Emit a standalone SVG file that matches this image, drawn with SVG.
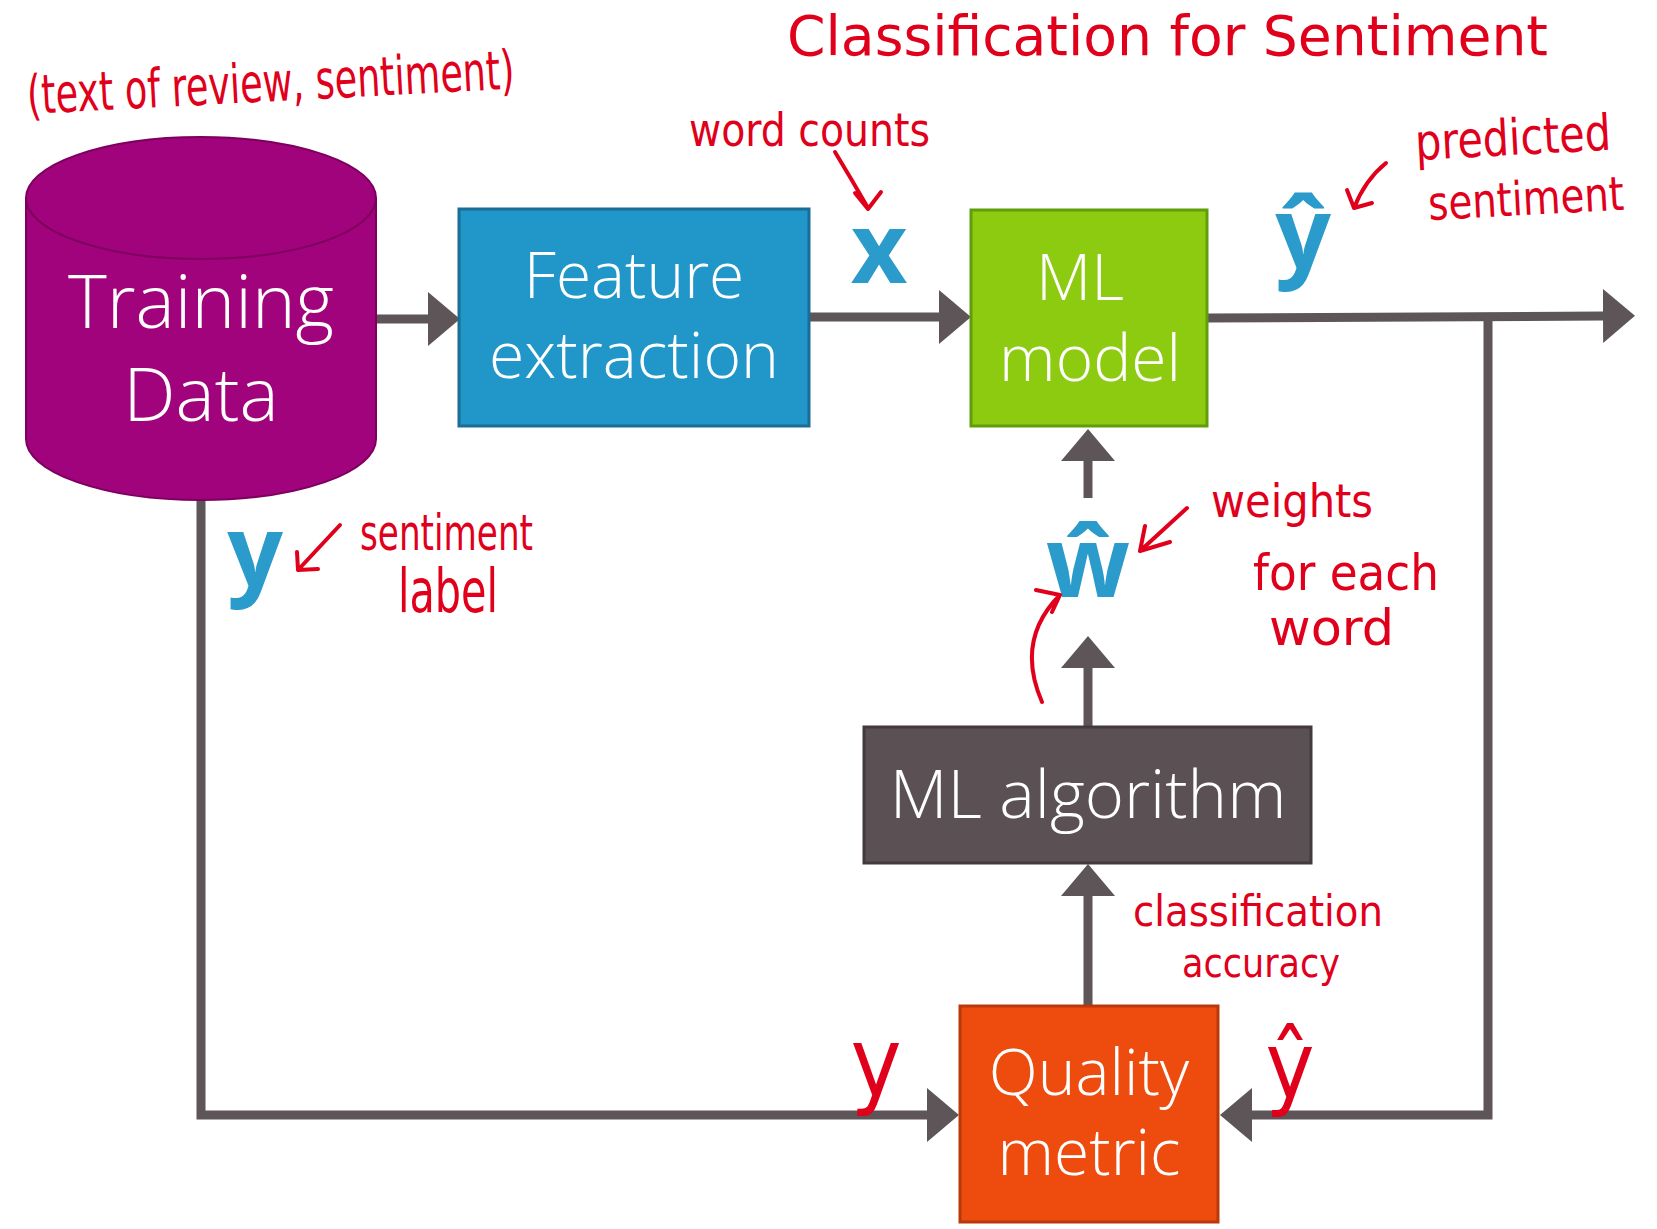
<svg xmlns="http://www.w3.org/2000/svg" width="1657" height="1229" viewBox="0 0 1657 1229">
<defs>
<style>
.box{font-family:"Open Sans","DejaVu Sans",sans-serif;font-weight:300;fill:#ffffff;text-anchor:middle}
.lbl{font-family:"Open Sans","DejaVu Sans",sans-serif;font-weight:700;fill:#2a9bcb;text-anchor:middle}
.hw{font-family:"Liberation Sans Narrow","DejaVu Sans Condensed","Liberation Sans",sans-serif;fill:#e0001b}
.conn{fill:none;stroke:#5d5558;stroke-width:9}
.red{fill:none;stroke:#e0001b;stroke-width:4;stroke-linecap:round;stroke-linejoin:round}
</style>
<marker id="ah" markerUnits="userSpaceOnUse" markerWidth="34" markerHeight="54" viewBox="0 0 34 54" refX="1" refY="27" orient="auto">
<path d="M0,0 L32,27 L0,54 Z" fill="#5d5558"/>
</marker>
</defs>
<rect width="1657" height="1229" fill="#ffffff"/>

<g id="connectors">
<path class="conn" d="M375,319 L429,319" marker-end="url(#ah)"/>
<path class="conn" d="M808,317 L940,317" marker-end="url(#ah)"/>
<path class="conn" d="M1207,318 L1604,316" marker-end="url(#ah)"/>
<path class="conn" d="M1488,318 L1488,1115 L1251,1115" marker-end="url(#ah)"/>
<path class="conn" d="M201,499 L201,1115 L928,1115" marker-end="url(#ah)"/>
<path class="conn" d="M1088,727 L1088,667" marker-end="url(#ah)"/>
<path class="conn" d="M1088,498 L1088,460" marker-end="url(#ah)"/>
<path class="conn" d="M1088,1005 L1088,895" marker-end="url(#ah)"/>
</g>

<g id="training-data">
<path d="M26,198 A175,61 0 0 1 376,198 L376,439 A175,61 0 0 1 26,439 Z" fill="#a0037b" stroke="#7d005e" stroke-width="2"/>
<path d="M26,198 A175,61 0 0 0 376,198" fill="none" stroke="#7d005e" stroke-width="2"/>
<text class="box" font-size="74"><tspan x="201" y="328">Training</tspan><tspan x="201" y="421">Data</tspan></text>
</g>

<g id="feature-extraction">
<rect x="459" y="209" width="350" height="217" fill="#2196c9" stroke="#1b6d96" stroke-width="3"/>
<text class="box" font-size="64"><tspan x="634" y="298">Feature</tspan><tspan x="634" y="378" textLength="290" lengthAdjust="spacingAndGlyphs">extraction</tspan></text>
</g>

<g id="ml-model">
<rect x="971" y="210" width="236" height="216" fill="#8ccb10" stroke="#629c0b" stroke-width="3"/>
<text class="box" font-size="64"><tspan x="1080" y="300">ML</tspan><tspan x="1090" y="381">model</tspan></text>
</g>

<g id="ml-algorithm">
<rect x="864" y="727" width="447" height="136" fill="#5b5054" stroke="#423a3d" stroke-width="3"/>
<text class="box" x="1088" y="818" font-size="67">ML algorithm</text>
</g>

<g id="quality-metric">
<rect x="960" y="1006" width="258" height="216" fill="#ee4b0e" stroke="#b9390a" stroke-width="3"/>
<text class="box" font-size="64"><tspan x="1089" y="1095">Quality</tspan><tspan x="1089" y="1175">metric</tspan></text>
</g>

<g id="labels">
<text class="lbl" x="879" y="283" font-size="98">x</text>
<text class="lbl" x="1303" y="268" font-size="98">ŷ</text>
<text class="lbl" x="255" y="586" font-size="98">y</text>
<text class="lbl" x="1088" y="597" font-size="98">ŵ</text>
</g>

<g id="annotations">
<text class="hw" x="787" y="55" font-size="56" textLength="761" lengthAdjust="spacingAndGlyphs">Classification for Sentiment</text>
<text class="hw" x="28" y="114" font-size="54" textLength="488" lengthAdjust="spacingAndGlyphs" transform="rotate(-3 28 114)">(text of review, sentiment)</text>
<text class="hw" x="689" y="146" font-size="46" textLength="241" lengthAdjust="spacingAndGlyphs">word counts</text>
<text class="hw" x="1416" y="160" font-size="50" textLength="196" lengthAdjust="spacingAndGlyphs" transform="rotate(-3 1416 160)">predicted</text>
<text class="hw" x="1429" y="220" font-size="47" textLength="196" lengthAdjust="spacingAndGlyphs" transform="rotate(-3 1429 220)">sentiment</text>
<text class="hw" font-size="50"><tspan x="360" y="550" textLength="173" lengthAdjust="spacingAndGlyphs">sentiment</tspan><tspan x="398" y="612" font-size="60" textLength="100" lengthAdjust="spacingAndGlyphs">label</tspan></text>
<text class="hw" font-size="50"><tspan x="1211" y="517" font-size="46" textLength="162" lengthAdjust="spacingAndGlyphs">weights</tspan><tspan x="1253" y="590" textLength="186" lengthAdjust="spacingAndGlyphs">for each</tspan><tspan x="1269" y="645" textLength="125" lengthAdjust="spacingAndGlyphs">word</tspan></text>
<text class="hw"><tspan x="1133" y="926" font-size="42" textLength="250" lengthAdjust="spacingAndGlyphs">classification</tspan><tspan x="1182" y="977" font-size="40" textLength="158" lengthAdjust="spacingAndGlyphs">accuracy</tspan></text>
<text class="hw" x="876" y="1096" font-size="96" text-anchor="middle">y</text>
<text class="hw" x="1290" y="1098" font-size="92" text-anchor="middle">ŷ</text>
<path class="red" d="M835,152 Q852,180 868,208 M855,193 L868,209 L881,192"/>
<path class="red" d="M1386,163 Q1365,180 1354,208 M1347,190 L1354,208 L1372,203"/>
<path class="red" d="M340,525 L298,570 M297,552 L298,570 L318,569"/>
<path class="red" d="M1187,508 L1140,551 M1145,526 L1140,551 L1170,542"/>
<path class="red" d="M1042,702 Q1015,640 1060,595 M1036,590 L1060,595 L1052,612"/>
</g>
</svg>
